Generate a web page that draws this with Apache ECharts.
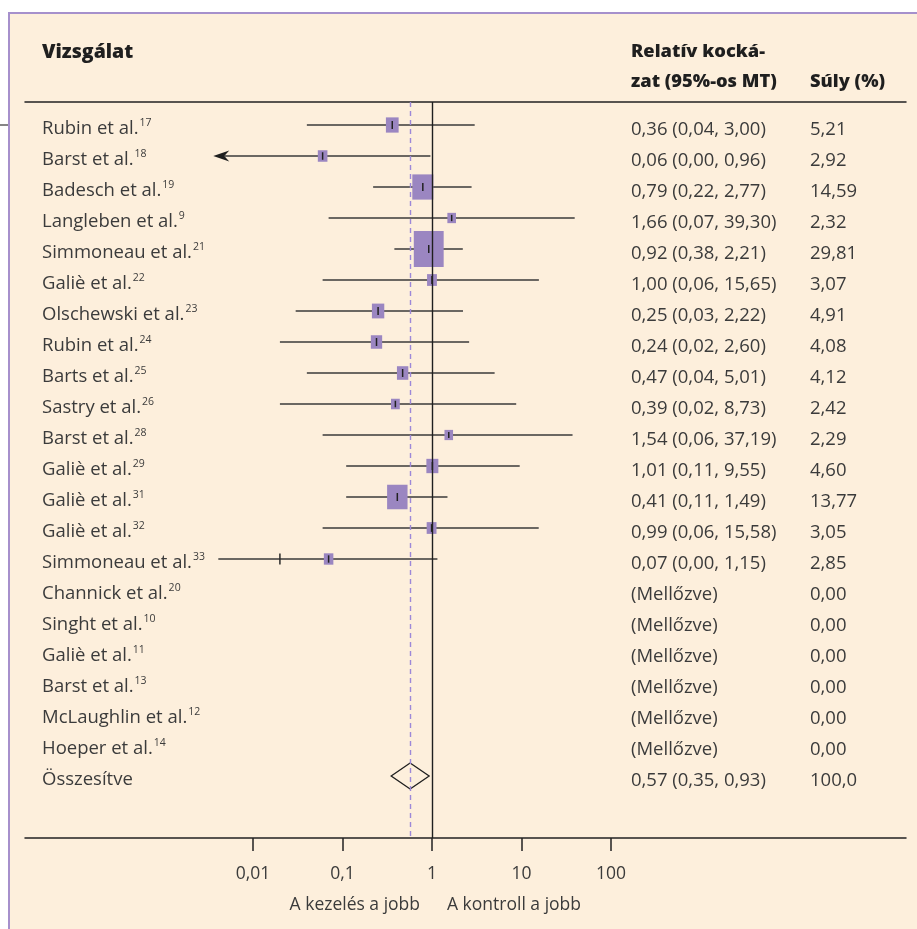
<!DOCTYPE html>
<html>
<head>
<meta charset="utf-8">
<script src="https://cdn.jsdelivr.net/npm/echarts@6/dist/echarts.min.js"></script>
<style>
  html, body { margin: 0; padding: 0; background: #ffffff; }
  #chart { width: 917px; height: 929px; }
</style>
</head>
<body>
<div id="chart"></div>
<script>
// Study rows, top to bottom (last row is the pooled estimate)
const studies = ['Rubin et al.', 'Barst et al.', 'Badesch et al.', 'Langleben et al.', 'Simmoneau et al.',
  'Galiè et al.', 'Olschewski et al.', 'Rubin et al.', 'Barts et al.', 'Sastry et al.', 'Barst et al.',
  'Galiè et al.', 'Galiè et al.', 'Galiè et al.', 'Simmoneau et al.', 'Channick et al.', 'Singht et al.',
  'Galiè et al.', 'Barst et al.', 'McLaughlin et al.', 'Hoeper et al.', 'Összesítve'];
const refs = ['17', '18', '19', '9', '21', '22', '23', '24', '25', '26', '28', '29', '31', '32', '33',
  '20', '10', '11', '13', '12', '14', ''];

// Relative risk with 95% confidence interval (null = excluded study)
const riskRatio = [0.36, 0.06, 0.79, 1.66, 0.92, 1.00, 0.25, 0.24, 0.47, 0.39, 1.54, 1.01, 0.41, 0.99, 0.07,
  null, null, null, null, null, null, 0.57];
const ciLower = [0.04, 0.00, 0.22, 0.07, 0.38, 0.06, 0.03, 0.02, 0.04, 0.02, 0.06, 0.11, 0.11, 0.06, 0.00,
  null, null, null, null, null, null, 0.35];
const ciUpper = [3.00, 0.96, 2.77, 39.30, 2.21, 15.65, 2.22, 2.60, 5.01, 8.73, 37.19, 9.55, 1.49, 15.58, 1.15,
  null, null, null, null, null, null, 0.93];
const weights = [5.21, 2.92, 14.59, 2.32, 29.81, 3.07, 4.91, 4.08, 4.12, 2.42, 2.29, 4.60, 13.77, 3.05, 2.85,
  0, 0, 0, 0, 0, 0, 100.0];

// Lower limits that round to 0,00 cannot sit on a log scale: the line is cut here instead
const lowerCut = [null, 0.0036, null, null, null, null, null, null, null, null, null, null, null, null, 0.0041];
const lowerArrow = [false, true, false, false, false, false, false, false, false, false, false, false, false, false, false];
const extraMark = [null, null, null, null, null, null, null, null, null, null, null, null, null, null, 0.02];

const xTicks = [0.01, 0.1, 1, 10, 100];
const nullLine = 1;
const pooledRow = studies.length - 1;

const FONT = '"Open Sans", "Noto Sans", sans-serif';
const TEXT = '#3b3b3b';
const CREAM = '#fdefdc';
const BOX = '#9b86c1';

const fmt2 = v => v.toFixed(2).replace('.', ',');
const fmtTick = v => String(v).replace('.', ',');

const rowIdx = studies.map((_, i) => i);
const studyData = [];
for (let i = 0; i < pooledRow; i++) {
  if (riskRatio[i] != null) studyData.push([riskRatio[i], i]);
}
const pooledData = [[riskRatio[pooledRow], pooledRow]];

function renderStudy(params, api) {
  const i = api.value(1);
  const est = riskRatio[i];
  const lo = ciLower[i] > 0 ? ciLower[i] : lowerCut[i];
  const p = api.coord([est, i]);
  const xLo = api.coord([lo, i])[0];
  const xHi = api.coord([ciUpper[i], i])[0];
  const y = p[1];
  const s = Math.sqrt(weights[i]);
  const bw = 5.4 * s + 0.4;
  const bh = 6.5 * s + 0.4;
  const lineStyle = { stroke: '#3a3a3a', lineWidth: 1.5 };
  const children = [];
  if (lowerArrow[i]) {
    children.push({ type: 'line', shape: { x1: xLo + 11, y1: y, x2: xHi, y2: y }, style: lineStyle });
    children.push({
      type: 'polygon',
      shape: { points: [[xLo, y], [xLo + 16, y - 5.5], [xLo + 11, y], [xLo + 16, y + 5.5]] },
      style: { fill: '#1f1f1f' }
    });
  } else {
    children.push({ type: 'line', shape: { x1: xLo, y1: y, x2: xHi, y2: y }, style: lineStyle });
  }
  if (extraMark[i] != null) {
    const xm = api.coord([extraMark[i], i])[0];
    children.push({ type: 'line', shape: { x1: xm, y1: y - 5.5, x2: xm, y2: y + 5.5 }, style: { stroke: '#2a2a2a', lineWidth: 1.5 } });
  }
  children.push({ type: 'rect', shape: { x: p[0] - bw / 2, y: y - bh / 2, width: bw, height: bh }, style: { fill: BOX } });
  const th = Math.min(8, bh - 4);
  children.push({ type: 'line', shape: { x1: p[0], y1: y - th / 2, x2: p[0], y2: y + th / 2 }, style: { stroke: '#222', lineWidth: 1.5 } });
  return { type: 'group', children };
}

function renderPooled(params, api) {
  const i = api.value(1);
  const c = api.coord([riskRatio[i], i]);
  const xl = api.coord([ciLower[i], i])[0];
  const xr = api.coord([ciUpper[i], i])[0];
  const h = 13;
  return {
    type: 'polygon',
    shape: { points: [[xl, c[1]], [c[0], c[1] - h], [xr, c[1]], [c[0], c[1] + h]] },
    style: { fill: 'none', stroke: '#1f1f1f', lineWidth: 1.3 }
  };
}

// Log x range chosen so that one decade spans the plot column width
const xMin = Math.pow(10, -4.547);
const xMax = Math.pow(10, 5.296);
const yMin = -0.742;
const yMax = 23.0;

const chart = echarts.init(document.getElementById('chart'), null, { renderer: 'canvas' });

const option = {
  backgroundColor: '#ffffff',
  animation: false,
  textStyle: { fontFamily: FONT },
  grid: { left: 25, right: 11, top: 102, bottom: 91, containLabel: false },
  xAxis: [{
    type: 'log',
    logBase: 10,
    position: 'bottom',
    min: xMin,
    max: xMax,
    axisLine: { show: true, onZero: false, lineStyle: { color: '#222', width: 1.5 } },
    axisTick: { show: true, customValues: xTicks, length: 13, lineStyle: { color: '#222', width: 1.5 } },
    axisLabel: {
      show: true, customValues: xTicks, margin: 27,
      formatter: v => fmtTick(v),
      color: TEXT, fontSize: 17.5, fontFamily: FONT
    },
    splitLine: { show: false }
  }, {
    // header rule along the top of the plot
    type: 'value', position: 'top', min: 0, max: 1,
    axisLine: { show: true, onZero: false, lineStyle: { color: '#222', width: 1.5 } },
    axisTick: { show: false }, axisLabel: { show: false }, splitLine: { show: false }
  }],
  yAxis: [{
    type: 'value',
    position: 'left',
    inverse: true,
    min: yMin, max: yMax,
    axisLine: { show: false },
    axisTick: { show: false },
    splitLine: { show: false },
    axisLabel: {
      show: true, inside: true, margin: 17,
      customValues: rowIdx,
      formatter: v => {
        const i = Math.round(v);
        return refs[i] ? '{n|' + studies[i] + '}{s|' + refs[i] + '}' : '{n|' + studies[i] + '}';
      },
      rich: {
        n: { fontSize: 18.5, fontFamily: FONT, color: TEXT, lineHeight: 22, padding: [7, 0, 0, 0] },
        s: { fontSize: 10.5, fontFamily: FONT, color: TEXT, verticalAlign: 'top', padding: [4, 0, 0, 1] }
      }
    }
  }, {
    type: 'value',
    position: 'right',
    inverse: true,
    min: yMin, max: yMax,
    axisLine: { show: false },
    axisTick: { show: false },
    splitLine: { show: false },
    axisLabel: {
      show: true, inside: true, margin: 0,
      customValues: rowIdx,
      formatter: v => {
        const i = Math.round(v);
        const rr = riskRatio[i] == null ? '(Mellőzve)'
          : fmt2(riskRatio[i]) + ' (' + fmt2(ciLower[i]) + ', ' + fmt2(ciUpper[i]) + ')';
        const w = i === pooledRow ? weights[i].toFixed(1).replace('.', ',') : fmt2(weights[i]);
        return '{a|' + rr + '}{b|' + w + '}';
      },
      rich: {
        a: { width: 179, align: 'left', fontSize: 18.5, fontFamily: FONT, color: TEXT, padding: [9, 0, 0, 0] },
        b: { width: 96, align: 'left', fontSize: 18.5, fontFamily: FONT, color: TEXT, padding: [9, 0, 0, 0] }
      }
    }
  }],
  series: [{
    // reference lines: no effect (1) and pooled estimate
    type: 'line',
    data: [],
    z: 1,
    markLine: {
      silent: true,
      symbol: 'none',
      label: { show: false },
      data: [
        { xAxis: nullLine, lineStyle: { color: '#1f1f1f', type: 'solid', width: 1.4 } },
        { xAxis: riskRatio[pooledRow], lineStyle: { color: '#9d88d8', type: [5, 4], width: 1.4 } }
      ]
    }
  }, {
    type: 'custom',
    z: 3,
    data: studyData,
    encode: { x: 0, y: 1 },
    renderItem: renderStudy
  }, {
    type: 'custom',
    z: 3,
    data: pooledData,
    encode: { x: 0, y: 1 },
    renderItem: renderPooled
  }],
  graphic: [
    { type: 'rect', z: -10, silent: true, shape: { x: 9, y: 13, width: 908, height: 916 }, style: { fill: CREAM } },
    { type: 'line', z: -5, silent: true, shape: { x1: 9, y1: 13, x2: 9, y2: 929 }, style: { stroke: '#a690cc', lineWidth: 2 } },
    { type: 'line', z: -5, silent: true, shape: { x1: 8, y1: 13, x2: 917, y2: 13 }, style: { stroke: '#a690cc', lineWidth: 2 } },
    { type: 'line', z: -5, silent: true, shape: { x1: 0, y1: 125, x2: 8, y2: 125 }, style: { stroke: '#333', lineWidth: 1.2 } },
    { type: 'text', silent: true, style: { x: 42, y: 52, text: 'Vizsgálat', fill: '#1f1f1f', fontSize: 19.5, fontWeight: 800, fontFamily: FONT, textVerticalAlign: 'middle' } },
    { type: 'text', silent: true, style: { x: 631, y: 52, text: 'Relatív kocká-', fill: '#1f1f1f', fontSize: 18.3, fontWeight: 800, fontFamily: FONT, textVerticalAlign: 'middle' } },
    { type: 'text', silent: true, style: { x: 631, y: 82, text: 'zat (95%-os MT)', fill: '#1f1f1f', fontSize: 18.3, fontWeight: 800, fontFamily: FONT, textVerticalAlign: 'middle' } },
    { type: 'text', silent: true, style: { x: 810, y: 82, text: 'Súly (%)', fill: '#1f1f1f', fontSize: 18.3, fontWeight: 800, fontFamily: FONT, textVerticalAlign: 'middle' } },
    { type: 'text', silent: true, style: { x: 420, y: 905, text: 'A kezelés a jobb', fill: TEXT, fontSize: 17.5, fontFamily: FONT, textAlign: 'right', textVerticalAlign: 'middle' } },
    { type: 'text', silent: true, style: { x: 447, y: 905, text: 'A kontroll a jobb', fill: TEXT, fontSize: 17.5, fontFamily: FONT, textAlign: 'left', textVerticalAlign: 'middle' } }
  ]
};

chart.setOption(option);
</script>
</body>
</html>
